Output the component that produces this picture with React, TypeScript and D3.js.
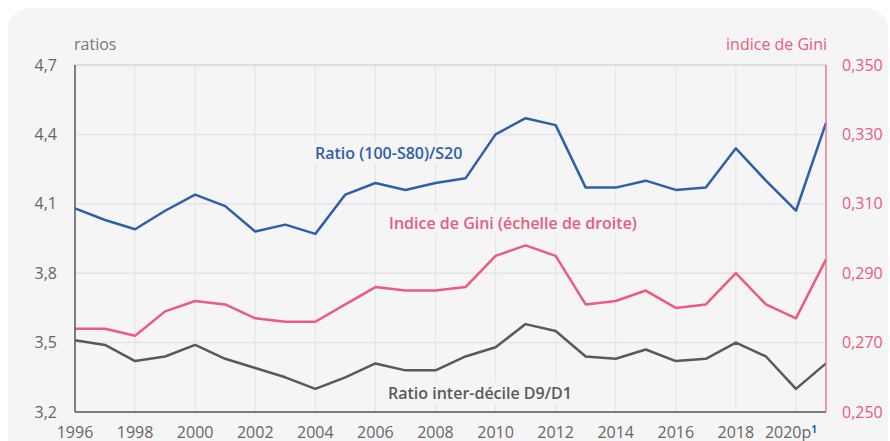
import React from "react";
import * as d3 from "d3";

const years = d3.range(1996, 2022);
const ratioS80S20 = [4.08, 4.03, 3.99, 4.07, 4.14, 4.09, 3.98, 4.01, 3.97, 4.14, 4.19, 4.16, 4.19, 4.21, 4.40, 4.47, 4.44, 4.17, 4.17, 4.20, 4.16, 4.17, 4.34, 4.20, 4.07, 4.45];
const giniIndex = [0.274, 0.274, 0.272, 0.279, 0.282, 0.281, 0.277, 0.276, 0.276, 0.281, 0.286, 0.285, 0.285, 0.286, 0.295, 0.298, 0.295, 0.281, 0.282, 0.285, 0.280, 0.281, 0.290, 0.281, 0.277, 0.294];
const ratioD9D1 = [3.51, 3.49, 3.42, 3.44, 3.49, 3.43, 3.39, 3.35, 3.30, 3.35, 3.41, 3.38, 3.38, 3.44, 3.48, 3.58, 3.55, 3.44, 3.43, 3.47, 3.42, 3.43, 3.50, 3.44, 3.30, 3.41];
const leftTicks = [3.2, 3.5, 3.8, 4.1, 4.4, 4.7];
const rightTicks = [0.25, 0.27, 0.29, 0.31, 0.33, 0.35];
const xTickYears = d3.range(1996, 2021, 2);

const W = 890, H = 441;
const m = { left: 75, right: 826, top: 65, bottom: 412 };
const FONT = "'Open Sans', 'Noto Sans', sans-serif";
const BLUE = "#2f5faa";
const PINK = "#eb5b7d";
const GRAY = "#595959";

export default function App() {
  const x = d3.scaleLinear().domain([1996, 2021]).range([m.left, m.right]);
  const yL = d3.scaleLinear().domain([3.2, 4.7]).range([m.bottom, m.top]);
  const yR = d3.scaleLinear().domain([0.25, 0.35]).range([m.bottom, m.top]);
  const lineL = d3.line<number>().x((_, i) => x(years[i])).y((d) => yL(d));
  const lineR = d3.line<number>().x((_, i) => x(years[i])).y((d) => yR(d));
  const fmtL = (v: number) => d3.format(".1f")(v).replace(".", ",");
  const fmtR = (v: number) => d3.format(".3f")(v).replace(".", ",");
  const gridYears = d3.range(1998, 2021, 2);

  const labels = [
    { text: "Ratio (100-S80)/S20", x: 315, y: 153, color: BLUE, w: 154 },
    { text: "Indice de Gini (échelle de droite)", x: 389, y: 223, color: PINK, w: 254 },
    { text: "Ratio inter-décile D9/D1", x: 388, y: 393, color: GRAY, w: 196 },
  ];

  return (
    <svg width={W} height={H} style={{ position: "absolute", left: 0, top: 0, fontFamily: FONT }}>
      <rect x={0} y={0} width={W} height={H} fill="#ffffff" />
      <rect x={8} y={8} width={880} height={460} rx={22} fill="#f5f5f5" />
      {gridYears.map((yr) => (
        <line key={"gx" + yr} x1={x(yr)} x2={x(yr)} y1={m.top} y2={m.bottom} stroke="#e4e4e4" strokeWidth={1} />
      ))}
      {leftTicks.slice(1, 5).map((t) => (
        <line key={"gy" + t} x1={m.left} x2={m.right} y1={yL(t)} y2={yL(t)} stroke="#e4e4e4" strokeWidth={1.5} />
      ))}
      <line x1={m.left} x2={m.right} y1={m.top} y2={m.top} stroke="#d6d6d6" strokeWidth={1.5} />
      {labels.map((l) => (
        <rect key={"bg" + l.text} x={l.x - 3} y={l.y - 11} width={l.w} height={22} fill="#f5f5f5" />
      ))}
      <path d={lineR(giniIndex) || ""} fill="none" stroke={PINK} strokeWidth={2.5} strokeLinejoin="round" />
      <path d={lineL(ratioD9D1) || ""} fill="none" stroke={GRAY} strokeWidth={2.5} strokeLinejoin="round" />
      <path d={lineL(ratioS80S20) || ""} fill="none" stroke={BLUE} strokeWidth={2.5} strokeLinejoin="round" />
      <line x1={m.left} x2={m.left} y1={m.top} y2={m.bottom} stroke="#555" strokeWidth={1.5} />
      <line x1={m.left} x2={m.right} y1={m.bottom} y2={m.bottom} stroke="#555" strokeWidth={1.5} />
      <line x1={m.right} x2={m.right} y1={m.top} y2={m.bottom} stroke="#e57d95" strokeWidth={1.5} />
      {leftTicks.map((t) => (
        <text key={"lt" + t} x={57} y={yL(t)} dy="0.35em" textAnchor="end" fontSize={16} fill="#666">{fmtL(t)}</text>
      ))}
      {rightTicks.map((t) => (
        <text key={"rt" + t} x={842} y={yR(t)} dy="0.35em" textAnchor="start" fontSize={16} fill={PINK}>{fmtR(t)}</text>
      ))}
      {xTickYears.map((yr) => (
        <text key={"xt" + yr} x={yr === 2020 ? x(yr) - 5 : x(yr)} y={438} textAnchor="middle" fontSize={16} fill="#666">
          {yr === 2020 ? (
            <>
              {"2020p"}
              <tspan fill={BLUE} fontWeight={700} fontSize={10} dy={-5}>1</tspan>
            </>
          ) : (
            String(yr)
          )}
        </text>
      ))}
      <text x={74} y={50} fontSize={16} fill="#777">ratios</text>
      <text x={827} y={50} fontSize={16} fill={PINK} textAnchor="end">indice de Gini</text>
      {labels.map((l) => (
        <text key={l.text} x={l.x} y={l.y} dy="0.35em" fontSize={16} fontWeight={600} fill={l.color}>{l.text}</text>
      ))}
    </svg>
  );
}
